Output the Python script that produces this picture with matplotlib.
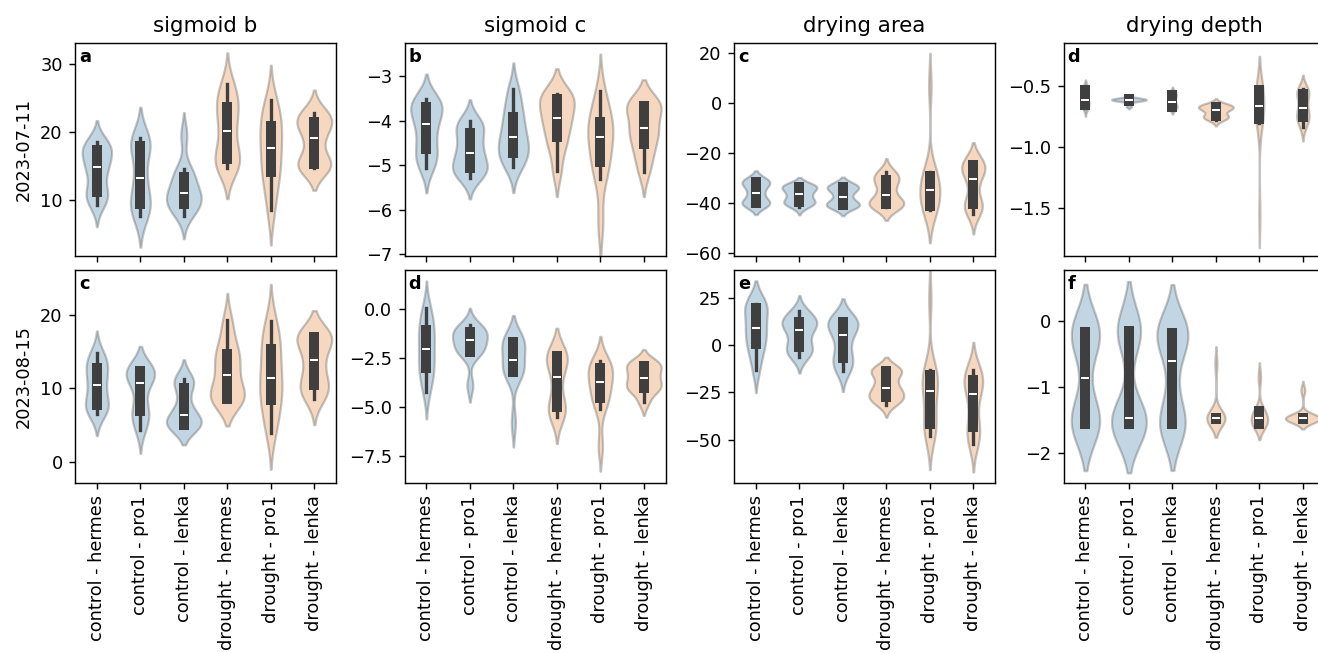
import pandas as pd
import matplotlib
matplotlib.use("Agg")
import matplotlib.pyplot as plt
import seaborn as sns

groups = ["control - hermes", "control - pro1", "control - lenka",
          "drought - hermes", "drought - pro1", "drought - lenka"]
treatments = ["control", "drought"]
params = ["sigmoid b", "sigmoid c", "drying area", "drying depth"]
dates = ["2023-07-11", "2023-08-15"]

# per-plant values, one list per group (same order as `groups`)
sigmoid_b_0711 = [
    [9.3, 10.4, 10.9, 11.4, 13.6, 14.8, 15.1, 16.3, 17.3, 17.7, 18.1, 18.55],
    [7.65, 8.8, 9.3, 10.1, 12.5, 14.1, 17.6, 18.15, 18.6, 19.15],
    [7.65, 8.9, 9.3, 9.7, 10.5, 11.05, 11.4, 12.9, 13.9, 14.55, 19.6],
    [14.8, 15.5, 15.9, 16.5, 19.5, 21.0, 23.3, 23.9, 25.5, 27.15],
    [8.55, 12.0, 13.8, 15.2, 17.2, 18.3, 20.6, 21.0, 23.0, 24.75],
    [14.8, 15.0, 15.2, 15.6, 18.3, 19.9, 21.3, 21.63, 22.3, 22.9],
]
sigmoid_c_0711 = [
    [-5.06, -4.85, -4.70, -4.45, -4.15, -4.01, -3.75, -3.68, -3.60, -3.52],
    [-5.29, -5.15, -5.10, -4.98, -4.80, -4.64, -4.45, -4.21, -4.10, -4.00],
    [-5.04, -4.85, -4.76, -4.60, -4.45, -4.31, -4.05, -3.88, -3.60, -3.28],
    [-5.13, -4.60, -4.45, -4.13, -4.00, -3.90, -3.60, -3.49, -3.45, -3.41],
    [-6.31, -5.31, -5.05, -4.83, -4.60, -4.38, -4.20, -4.05, -4.01, -3.70, -3.33],
    [-5.16, -4.80, -4.60, -4.32, -4.20, -4.14, -3.70, -3.65, -3.65, -3.63],
]
drying_area_0711 = [
    [-40.5, -40.2, -40.1, -40.0, -36.5, -35.1, -32.2, -31.5, -31.3, -31.2],
    [-41.5, -40.0, -39.8, -39.0, -37.0, -36.0, -34.5, -33.2, -33.1, -33.0],
    [-41.5, -40.9, -40.8, -40.7, -38.5, -36.3, -34.5, -33.3, -33.2, -33.2],
    [-41.5, -41.0, -40.7, -40.0, -38.5, -35.3, -32.0, -30.6, -29.0, -27.6],
    [-42.9, -41.5, -41.3, -40.9, -37.0, -35.5, -34.1, -31.0, -29.2, -28.9, -27.6, 7.0],
    [-44.2, -41.5, -40.8, -39.6, -32.0, -28.6, -26.5, -24.4, -24.2, -24.0],
]
drying_depth_0711 = [
    [-0.683, -0.665, -0.660, -0.645, -0.620, -0.608, -0.560, -0.525, -0.520, -0.517],
    [-0.668, -0.624, -0.621, -0.619, -0.616, -0.612, -0.609, -0.606, -0.603, -0.598],
    [-0.680, -0.675, -0.672, -0.668, -0.640, -0.620, -0.590, -0.570, -0.565, -0.560],
    [-0.780, -0.760, -0.750, -0.737, -0.700, -0.694, -0.675, -0.671, -0.660, -0.650],
    [-1.55, -0.800, -0.780, -0.770, -0.720, -0.680, -0.655, -0.620, -0.538, -0.535, -0.533, -0.530],
    [-0.838, -0.780, -0.760, -0.740, -0.700, -0.654, -0.590, -0.560, -0.540, -0.525],
]
sigmoid_b_0815 = [
    [6.55, 7.3, 7.6, 8.4, 10.1, 10.8, 12.3, 12.9, 13.8, 14.83],
    [4.34, 6.0, 6.6, 7.7, 10.3, 11.1, 12.2, 12.45, 12.5, 12.55],
    [5.0, 5.02, 5.03, 5.05, 6.1, 6.7, 8.2, 10.6, 10.9, 11.24],
    [8.5, 8.52, 8.53, 8.6, 9.8, 11.0, 12.5, 13.5, 14.4, 15.2, 17.0, 19.3],
    [3.93, 6.5, 8.0, 9.5, 11.0, 11.76, 14.2, 15.65, 17.0, 19.2],
    [8.53, 9.8, 10.2, 11.2, 13.3, 14.5, 16.9, 17.02, 17.05, 17.1],
]
sigmoid_c_0815 = [
    [-4.22, -3.5, -3.1, -2.8, -2.2, -1.85, -1.3, -1.02, -0.5, 0.03],
    [-3.9, -2.21, -2.2, -2.18, -1.8, -1.6, -1.45, -1.2, -1.15, -1.0, -0.83],
    [-5.8, -3.26, -3.25, -3.23, -3.0, -2.59, -2.1, -1.72, -1.62, -1.6, -1.58],
    [-5.52, -5.2, -5.0, -4.9, -3.8, -3.1, -2.6, -2.35, -2.34, -2.33],
    [-7.0, -5.09, -4.6, -4.46, -4.0, -3.71, -3.5, -3.1, -2.94, -2.8, -2.67],
    [-4.75, -4.1, -4.05, -4.0, -3.6, -3.46, -3.2, -2.85, -2.8, -2.75],
]
drying_area_0815 = [
    [-13.1, -4.0, -1.0, 4.4, 7.0, 10.5, 15.5, 21.1, 21.5, 21.8],
    [-6.44, -3.5, -2.0, 1.7, 6.5, 9.6, 11.1, 12.3, 15.0, 17.7],
    [-14.0, -10.0, -8.0, -3.2, 3.5, 7.2, 10.5, 12.5, 13.0, 13.8],
    [-31.5, -29.5, -28.0, -27.2, -25.5, -23.6, -21.6, -19.0, -14.0, -13.4, -13.3, -13.2],
    [-48.0, -46.0, -43.0, -41.9, -41.0, -30.0, -26.0, -22.6, -21.0, -16.5,
     -15.5, -14.5, -13.1, 24.0],
    [-52.4, -48.0, -44.5, -38.9, -28.0, -23.9, -20.0, -17.9, -14.5, -13.4],
]
drying_depth_0815 = [
    [-1.58, -1.57, -1.56, -1.55, -1.20, -0.53, -0.20, -0.15, -0.14, -0.13],
    [-1.58, -1.56, -1.555, -1.55, -1.50, -1.44, -0.20, -0.14, -0.13, -0.12],
    [-1.58, -1.56, -1.555, -1.55, -0.90, -0.30, -0.25, -0.16, -0.15, -0.13],
    [-1.50, -1.49, -1.48, -1.475, -1.474, -1.474, -1.47, -1.46, -1.45, -0.65],
    [-1.58, -1.575, -1.57, -1.55, -1.48, -1.47, -1.40, -1.36, -1.355, -0.85],
    [-1.50, -1.49, -1.485, -1.48, -1.475, -1.473, -1.47, -1.465, -1.46, -1.05],
]

panels = [
    [sigmoid_b_0711, sigmoid_c_0711, drying_area_0711, drying_depth_0711],
    [sigmoid_b_0815, sigmoid_c_0815, drying_area_0815, drying_depth_0815],
]
letters = [["a", "b", "c", "d"], ["c", "d", "e", "f"]]
ylims = [
    [(1.8, 33.15), (-7.04, -2.26), (-61.2, 24.1), (-1.888, -0.151)],
    [(-2.78, 26.1), (-8.84, 1.98), (-72.7, 39.7), (-2.45, 0.78)],
]
yticks = [
    [[10, 20, 30], [-7, -6, -5, -4, -3], [-60, -40, -20, 0, 20], [-1.5, -1.0, -0.5]],
    [[0, 10, 20], [-7.5, -5.0, -2.5, 0.0], [-50, -25, 0, 25], [-2, -1, 0]],
]


def to_frame(values):
    rows = []
    for g, vals in zip(groups, values):
        for v in vals:
            rows.append((g, g.split(" - ")[0], v))
    return pd.DataFrame(rows, columns=["group", "treatment", "value"])


dpi = 128
fig, axes = plt.subplots(2, 4, figsize=(1318 / dpi, 653 / dpi), dpi=dpi)
fig.subplots_adjust(left=0.057, right=1.005, bottom=0.261, top=0.934,
                    wspace=0.263, hspace=0.065)

for r in range(2):
    for c in range(4):
        ax = axes[r, c]
        df = to_frame(panels[r][c])
        sns.violinplot(data=df, x="group", y="value", hue="treatment",
                       order=groups, hue_order=treatments, alpha=0.3,
                       bw_adjust=0.8, legend=False, ax=ax)
        ax.set_ylim(*ylims[r][c])
        ax.set_yticks(yticks[r][c])
        ax.set_xlabel("")
        ax.set_ylabel(dates[r] if c == 0 else "")
        ax.text(0.014, 0.975, letters[r][c], transform=ax.transAxes,
                fontweight="bold", va="top", ha="left")
        if r == 0:
            ax.set_title(params[c])
            ax.tick_params(axis="x", labelbottom=False)
        else:
            ax.tick_params(axis="x", labelrotation=90)

fig.savefig("out.png", dpi=dpi)
